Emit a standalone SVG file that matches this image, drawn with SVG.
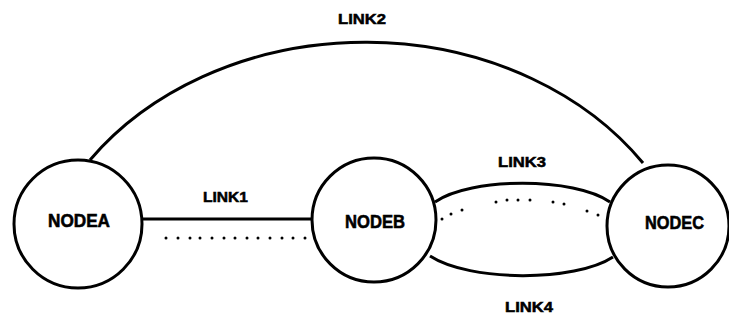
<svg xmlns="http://www.w3.org/2000/svg" width="729" height="320" viewBox="0 0 729 320">
<style>
.node{fill:#fff;stroke:#000;stroke-width:3}
.link{fill:none;stroke:#000;stroke-width:3}
.dots{fill:none;stroke:#000;stroke-width:3;stroke-linecap:round}
.nl{font-family:"Liberation Sans",Arial,sans-serif;font-weight:bold;font-size:19px;text-anchor:middle;fill:#000;stroke:#000;stroke-width:0.6}
.ll{font-family:"Liberation Sans",Arial,sans-serif;font-weight:bold;font-size:14px;text-anchor:middle;fill:#000;stroke:#000;stroke-width:0.5}
</style>
<rect width="729" height="320" fill="#fff"/>
<g id="connectors">
<g id="link1">
<path class="link" d="M143,219 L311,219"/>
<path class="dots" d="M166,238h0M178,238h0M190,238h0M200,238h0M212,238h0M224,238h0M235,238h0M247,238h0M258,238h0M270,238h0M282,238h0M293,238h0M305,238h0"/>
<text class="ll" x="225.5" y="202" textLength="45" lengthAdjust="spacingAndGlyphs">LINK1</text>
</g>
<g id="link2">
<path class="link" d="M90,160 A336,276 0 0 1 643,163"/>
<text class="ll" x="362" y="24" textLength="48" lengthAdjust="spacingAndGlyphs">LINK2</text>
</g>
<g id="link3">
<path class="link" d="M435,202 C470,177 575,177 610,202"/>
<path class="dots" d="M442,219h0M451,214h0M462,210h0M496,202h0M507,200h0M518,200h0M530,200h0M553,202h0M564,204h0M587,211h0M598,215h0"/>
<text class="ll" x="522" y="167" textLength="48" lengthAdjust="spacingAndGlyphs">LINK3</text>
</g>
<g id="link4">
<path class="link" d="M430,256 C470,282 575,282 613,257"/>
<text class="ll" x="529" y="312" textLength="48" lengthAdjust="spacingAndGlyphs">LINK4</text>
</g>
</g>
<g id="nodeA">
<circle class="node" cx="78" cy="224" r="64"/>
<text class="nl" x="79" y="227" textLength="62" lengthAdjust="spacingAndGlyphs">NODEA</text>
</g>
<g id="nodeB">
<circle class="node" cx="374" cy="220" r="62"/>
<text class="nl" x="375" y="228" textLength="60" lengthAdjust="spacingAndGlyphs">NODEB</text>
</g>
<g id="nodeC">
<circle class="node" cx="668" cy="226" r="61"/>
<text class="nl" x="674.5" y="229" textLength="59" lengthAdjust="spacingAndGlyphs">NODEC</text>
</g>
</svg>
